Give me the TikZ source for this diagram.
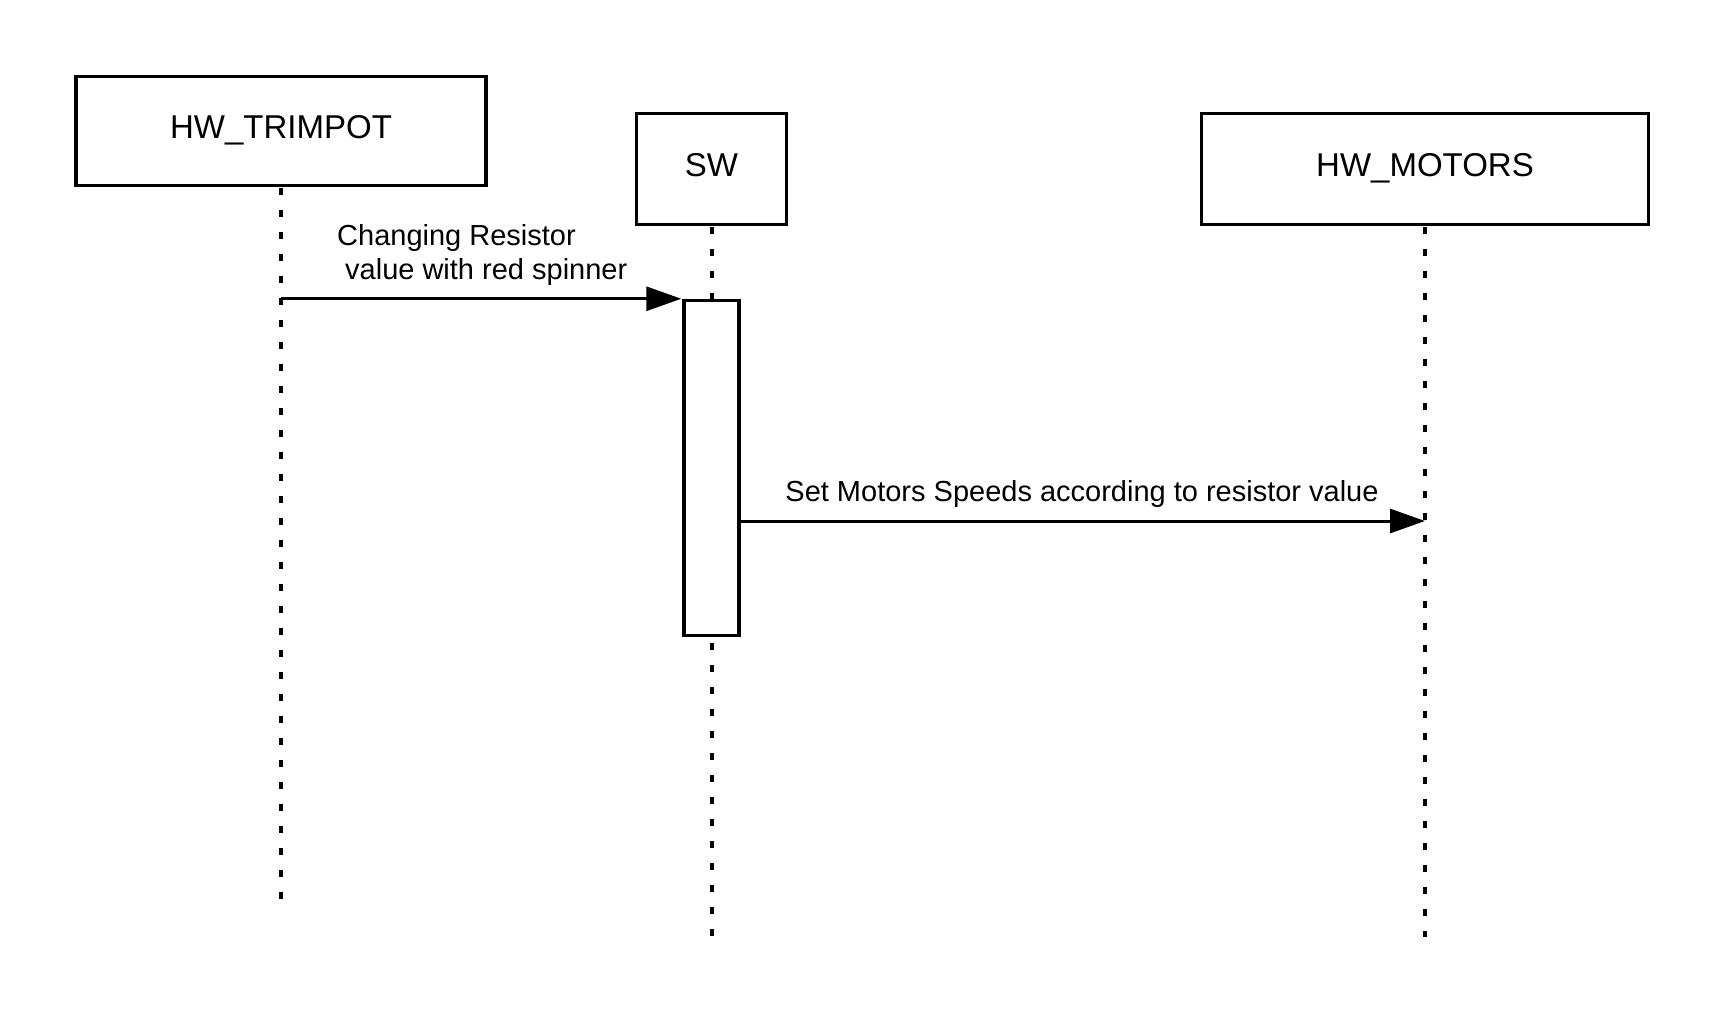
\documentclass[tikz,border=0pt]{standalone}
\usepackage{fontspec}
\setmainfont{Liberation Sans}
\usetikzlibrary{arrows.meta}
\begin{document}
\begin{tikzpicture}[x=1pt,y=-1pt,
  actor/.style={draw,line width=3.5pt,inner sep=0pt,text height=23.5pt,text depth=9pt,
    font=\fontsize{33}{39}\selectfont},
  activation/.style={draw,fill=white,line width=3.5pt,inner sep=0pt,minimum width=55pt,minimum height=335pt},
  lifeline/.style={line width=4pt,dash pattern=on 7pt off 15pt},
  msg/.style={line width=3pt,-{Triangle[length=35pt,width=24pt]}},
  msgtext/.style={inner sep=0pt,anchor=base west,font=\fontsize{29}{34}\selectfont}]
\useasboundingbox (0,0) rectangle (1725,1013);
% actors
\node[actor,minimum width=410pt,minimum height=109pt] (trim) at (281,131) {HW\_TRIMPOT};
\node[actor,minimum width=150pt,minimum height=111pt] (sw) at (711.5,169) {SW};
\node[actor,minimum width=447pt,minimum height=111pt] (motors) at (1425,169) {HW\_MOTORS};
% activation
\node[activation] (act) at (711.5,468) {};
% lifeline ends
\coordinate (trimend) at (281,900);
\coordinate (swend) at (711.5,937);
\coordinate (motend) at (1425,937);
\coordinate (m2end) at (1425,521);
% lifelines
\draw[lifeline] ([yshift=-1pt]trim.south) -- (trimend);
\draw[lifeline] ([yshift=-1pt]sw.south) -- (act.north);
\draw[lifeline] ([yshift=-6pt]act.south) -- (swend);
\draw[lifeline] ([yshift=-1pt]motors.south) -- (motend);
\node[activation] at (act) {};
% messages
\draw[msg] (trim.south |- act.north west) -- ([xshift=-1pt]act.north west);
\node[msgtext] (l1a) at (337,245) {Changing Resistor};
\node[msgtext] (l1b) at (345,279) {value with red spinner};
\draw[msg] (act.east |- m2end) -- (m2end);
\node[msgtext,anchor=base] (l2) at (1082,501) {Set Motors Speeds according to resistor value};
\end{tikzpicture}
\end{document}
